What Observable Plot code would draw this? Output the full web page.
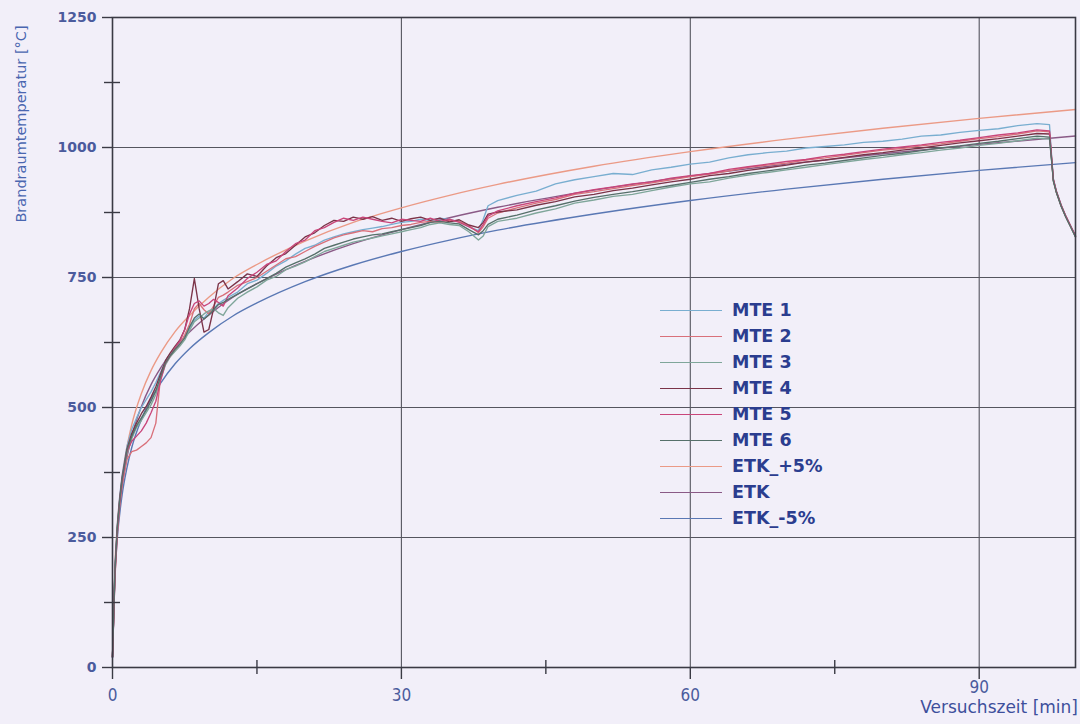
<!DOCTYPE html>
<html><head><meta charset="utf-8">
<script src="https://cdn.jsdelivr.net/npm/d3@7"></script>
<script src="https://cdn.jsdelivr.net/npm/@observablehq/plot@0.6"></script>
<style>
html,body{margin:0;padding:0;background:#f2eff9;}
#wrap{position:relative;width:1080px;height:724px;overflow:hidden;}
#ytitle{position:absolute;left:21px;top:124px;transform:translate(-50%,-50%) rotate(-90deg);white-space:nowrap;font:14.5px "DejaVu Sans",sans-serif;color:#4a66b0;}
#xtitle{position:absolute;right:2px;top:697px;white-space:nowrap;font:17px "DejaVu Sans",sans-serif;color:#3e4f9c;}
#legend{position:absolute;left:660px;top:297px;font:bold 17.5px "DejaVu Sans",sans-serif;color:#2b3d8f;}
.row{display:flex;align-items:center;height:26px;}
.sw{width:62px;height:0;border-top:1.6px solid;margin-right:10px;}
</style></head><body>
<div id="wrap"></div>
<script>
// time axis of measured series [min]
const time = [0,0.25,0.5,0.75,1,1.5,2,2.5,3,3.5,4,4.5,5,5.5,6,6.5,7,7.5,8,8.5,9,9.5,10,10.5,11,11.5,12,13,
  14,15,16,17,18,19,20,21,22,23,24,25,26,27,28,29,30,31,32,33,34,35,36,37,38,38.5,39,40,
  42,44,46,48,50,52,54,56,58,60,62,64,66,68,70,72,74,76,78,80,82,84,86,88,90,92,94,96,
  97.3,97.55,97.7,98,98.5,99,99.5,100];

const mte1 = [20,190,275,330,370,425,458,480,500,515,530,548,568,590,603,614,624,636,652,668,676,672,684,690,700,706,712,722,
  738,745,758,772,782,795,806,812,822,828,834,838,842,845,848,852,856,858,862,860,864,861,858,848,840,862,888,898,
  908,916,930,938,944,950,948,957,962,968,972,980,986,990,993,999,1002,1005,1010,1012,1016,1022,1024,1029,1033,1036,1042,1046,
  1044,975,940,917,890,868,849,830];
const mte2 = [20,170,255,310,350,400,415,418,425,432,442,470,560,588,598,610,622,640,660,690,700,688,680,695,712,716,722,735,
  742,750,762,774,786,790,800,810,818,826,832,836,840,838,844,846,850,852,856,858,856,860,858,850,836,848,864,874,
  884,893,900,910,915,921,927,932,938,944,949,955,962,966,970,976,980,985,990,995,998,1003,1007,1012,1017,1021,1026,1032,
  1030,972,938,916,889,867,848,829];
const mte3 = [20,180,265,320,360,410,440,462,475,490,505,525,555,582,598,608,618,630,648,665,672,680,686,690,682,677,692,710,
  722,732,745,752,765,772,780,790,800,806,812,818,822,826,830,834,838,842,846,852,855,852,850,838,822,830,848,858,
  864,874,882,893,899,906,910,917,924,930,934,941,947,952,957,962,967,972,977,981,986,990,995,999,1004,1008,1013,1018,
  1016,968,935,914,887,866,847,828];
const mte4 = [20,185,270,325,365,420,450,470,488,502,520,540,565,590,605,618,630,650,690,748,690,645,650,690,738,744,728,742,
  757,752,772,788,796,812,828,836,850,860,858,866,862,867,860,864,858,863,866,860,864,857,861,851,846,856,872,876,
  880,889,896,905,910,917,922,928,934,939,946,950,956,961,966,972,976,981,986,990,995,999,1004,1009,1013,1017,1022,1027,
  1026,970,937,915,888,867,848,829];
const mte5 = [20,175,262,318,358,415,435,445,455,470,490,512,552,585,600,615,628,650,680,700,705,695,700,708,702,695,715,730,
  748,760,775,782,800,815,822,840,846,856,864,860,866,862,858,855,862,860,858,864,858,862,856,848,838,852,868,878,
  888,896,903,912,919,924,930,934,941,946,950,958,963,968,973,977,983,987,992,997,1001,1005,1010,1014,1019,1024,1028,1034,
  1032,973,939,917,890,868,849,830];
const mte6 = [20,182,268,322,362,418,445,465,480,495,512,532,560,586,600,612,622,634,655,672,680,670,678,688,698,702,708,718,
  728,738,748,758,770,778,786,795,806,812,818,824,828,832,834,838,842,846,850,856,858,855,853,842,832,840,852,862,
  870,880,888,897,904,910,915,921,927,933,939,944,950,955,960,966,970,975,980,985,989,994,999,1003,1008,1012,1017,1022,
  1020,969,936,915,888,866,847,828];

// standard fire curve (ETK) and ±5 % band
const etkTime  = [0,0.25,0.5,1,1.5,2,3,4,5,6.5,8,10,12.5,15,20,25,30,35,40,50,60,70,80,90,100];
const etkPlus  = [21,194,274,366,424,467,527,571,605,646,677,712,748,775,820,856,884,908,929,964,992,1016,1037,1056,1073];
const etkMid   = [20,185,261,349,404,445,502,544,576,615,645,678,712,738,781,815,842,865,885,918,945,968,988,1006,1022];
const etkMinus = [19,176,248,332,384,423,477,517,547,584,613,644,676,701,742,774,800,822,841,872,898,920,939,956,971];

const seriesNames = ["MTE 1","MTE 2","MTE 3","MTE 4","MTE 5","MTE 6","ETK_+5%","ETK","ETK_-5%"];
const seriesColors = ["#79aed0","#d9707a","#7fa69a","#7b3348","#c9467a","#56706a","#eb9a86","#8a5a86","#5a78b4"];

const yTicks = [0,250,500,750,1000,1250];
const yMinor = [125,375,625,875,1125];
const xTicks = [0,30,60,90];
const xMinor = [15,45,75];

const measured = [mte1,mte2,mte3,mte4,mte5,mte6];
const rows = [];
measured.forEach((vals,i)=>vals.forEach((v,j)=>rows.push({series:seriesNames[i],t:time[j],T:v})));
const etkRows = [];
[etkPlus,etkMid,etkMinus].forEach((vals,i)=>vals.forEach((v,j)=>etkRows.push({series:seriesNames[6+i],t:etkTime[j],T:v})));

const plain = d => String(d);
const gridStyle = {stroke:"#55555f",strokeOpacity:1,strokeWidth:1.1};
const narrow = "Liberation Sans Narrow, DejaVu Sans Condensed, Liberation Sans, sans-serif";
const chart = Plot.plot({
  width:1080, height:724,
  marginLeft:112, marginRight:5, marginTop:17, marginBottom:57,
  style:{background:"transparent", fontFamily:"DejaVu Sans, sans-serif", color:"#4b5b9d", overflow:"visible"},
  x:{domain:[0,100]},
  y:{domain:[0,1250]},
  color:{domain:seriesNames, range:seriesColors},
  marks:[
    Plot.gridX(xTicks.slice(1), gridStyle),
    Plot.gridY(yTicks.slice(1,-1), gridStyle),
    Plot.line(etkRows,{x:"t",y:"T",z:"series",stroke:"series",curve:"monotone-x",strokeWidth:1.4}),
    Plot.line(rows,{x:"t",y:"T",z:"series",stroke:"series",strokeWidth:1.35}),
    Plot.frame({stroke:"#3a3a44",strokeWidth:1.6}),
    Plot.axisY(yTicks,{tickSize:10,tickPadding:6,tickFormat:plain,fontSize:14,fontWeight:"bold",stroke:"#3a3a44",fill:"#4b5b9d",label:null,strokeWidth:1.4}),
    Plot.axisY(yMinor,{tickSize:16,dx:8,text:null,label:null,stroke:"#3a3a44",strokeWidth:1.4}),
    Plot.axisX(xTicks.slice(0,3),{tickSize:12,tickPadding:9,tickFormat:plain,fontSize:17,fontFamily:narrow,fill:"#4b5b9d",stroke:"#3a3a44",label:null,strokeWidth:1.4}),
    Plot.axisX(xTicks.slice(3),{tickSize:12,tickPadding:1,tickFormat:plain,fontSize:17,fontFamily:narrow,fill:"#4b5b9d",stroke:"#3a3a44",label:null,strokeWidth:1.4}),
    Plot.axisX(xMinor,{tickSize:14,dy:-7,text:null,label:null,stroke:"#3a3a44",strokeWidth:1.4})
  ]
});
const wrap = document.getElementById("wrap");
wrap.appendChild(chart);

const yt = document.createElement("div"); yt.id="ytitle"; yt.textContent="Brandraumtemperatur [°C]"; wrap.appendChild(yt);
const xt = document.createElement("div"); xt.id="xtitle"; xt.textContent="Versuchszeit [min]"; wrap.appendChild(xt);
const lg = document.createElement("div"); lg.id="legend";
seriesNames.forEach((n,i)=>{
  const r=document.createElement("div"); r.className="row";
  const s=document.createElement("div"); s.className="sw"; s.style.borderTopColor=seriesColors[i];
  const l=document.createElement("span"); l.textContent=n;
  r.appendChild(s); r.appendChild(l); lg.appendChild(r);
});
wrap.appendChild(lg);
</script>
</body></html>
